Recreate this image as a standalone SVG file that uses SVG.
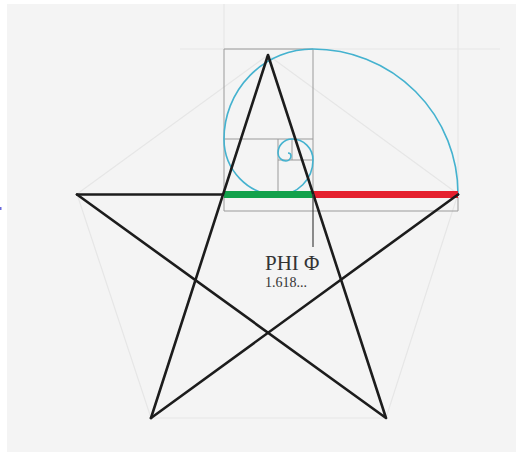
<svg xmlns="http://www.w3.org/2000/svg" width="516" height="452" viewBox="0 0 516 452">
<style>
.faint{stroke:#e6e6e6;stroke-width:1.2;fill:none}
.grid{stroke:#9a9a9a;stroke-width:1;fill:none}
.star{stroke:#1c1c1c;stroke-width:2.6;fill:none;stroke-linecap:round;stroke-linejoin:round}
.spiral{stroke:#44b2cf;stroke-width:1.6;fill:none}
.lbl{font-family:"Liberation Serif","Times New Roman",serif;fill:#333}
</style>
<rect x="0" y="0" width="516" height="452" fill="#ffffff"/>
<rect x="7" y="4" width="509" height="448" fill="#f4f4f4"/>
<rect x="0" y="207" width="1.5" height="3" fill="#6a6adb"/>
<g id="guides">
<line class="faint" x1="224" y1="4" x2="224" y2="49"/>
<line class="faint" x1="458" y1="4" x2="458" y2="190"/>
<line class="faint" x1="180" y1="49" x2="500" y2="49"/>
<polygon class="faint" points="77,194 268,55 458,194 386,418 151,418"/>
</g>
<g id="golden-rectangle">
<polyline class="grid" points="224,194 224,49 313,49 313,194"/>
<line class="grid" x1="224" y1="139" x2="313" y2="139"/>
<line class="grid" x1="278" y1="139" x2="278" y2="194"/>
<line class="grid" x1="278" y1="160" x2="313" y2="160"/>
<line class="grid" x1="292" y1="139" x2="292" y2="160"/>
<polyline class="grid" points="224,197 224,211 458,211 458,197"/>
</g>
<g id="spiral">
<path class="spiral" d="M458,194 A145,145 0 0 0 313,49 A89,90 0 0 0 224,139 A54,56 0 0 0 278,195 A35,35 0 0 0 313,160 A21,21 0 0 0 292,139 A14,14 0 0 0 278,153 A8,8 0 0 0 286,161 A5,5 0 0 0 291,156 A3,3 0 0 0 288,153"/>
</g>
<g id="star-base">
<line class="star" x1="77" y1="194.5" x2="458" y2="194.5"/>
</g>
<g id="segments">
<rect x="224" y="191" width="89" height="7" fill="#12a14b"/>
<rect x="313" y="191" width="145" height="7" fill="#e5202e"/>
</g>
<g id="star">
<polyline class="star" points="151,418 268,55 386,418 77,194.5"/>
<line class="star" x1="458" y1="194.5" x2="151" y2="418"/>
</g>
<g id="phi-label">
<line x1="313" y1="194" x2="313" y2="247" stroke="#444" stroke-width="1.2"/>
<text class="lbl" x="265" y="270" font-size="21">PHI Φ</text>
<text class="lbl" x="265" y="287" font-size="14">1.618...</text>
</g>
</svg>
